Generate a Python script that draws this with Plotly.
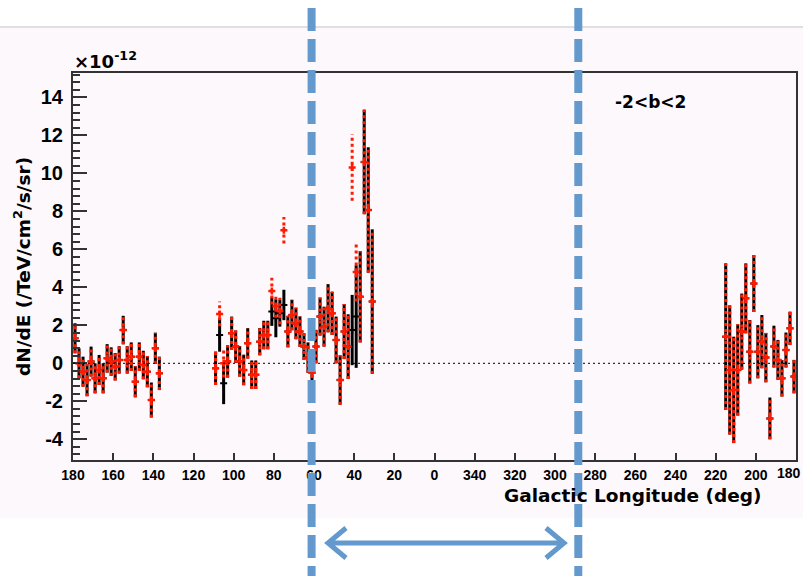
import plotly.graph_objects as go

# ---------------- data ----------------
# Galactic longitude of each bin centre (deg)
lon_left = [179, 177, 175, 173, 171, 169, 167, 165, 163, 161, 159, 157, 155, 153, 151, 149, 147, 145, 143, 141, 139, 137]
lon_mid = [109, 107, 105, 103, 101, 99, 97, 95, 93, 91, 89, 87, 85, 83, 81, 79, 77, 75, 73, 71, 69, 67, 65, 63,
           61, 59, 57, 55, 53, 51, 49, 47, 45, 43, 41, 39, 37, 35, 33, 31]
lon_right = [215, 213, 211, 209, 207, 205, 203, 201, 199, 197, 195, 193, 191, 189, 187, 185, 183, 181]

# black series (x1e-12)
black_left = [1.32, 0.0, -0.44, -0.88, 0.09, -0.79, -0.35, -0.79, 0.26, 0.09, -0.18, 0.18, 1.75, 0.18, 0.35,
              -0.97, 0.35, -0.09, -0.44, -1.93, 0.79, -0.53]
black_left_err = [0.79, 0.79, 0.79, 0.85, 0.79, 0.79, 0.79, 0.79, 0.75, 0.75, 0.72, 0.72, 0.75, 0.72, 0.75,
                  0.82, 0.75, 0.75, 0.82, 0.92, 0.82, 0.88]
black_mid = [-0.26, 1.49, -1.05, 0.1, 1.58, 0.88, 0.1, -0.35, 1.05, -0.6, -0.6, 1.14, 1.49, 1.49, 2.72, 2.37,
             2.63, 3.07, 1.67, 2.54, 2.1, 1.67, 0.88, 0.3,
             -0.5, 0.88, 2.46, 1.93, 2.9, 2.63, 1.23, -0.88, 1.67, 0.88, 1.75, 2.46, 3.5, 10.6, 8.07, 3.25]
black_mid_err = [0.88, 0.88, 1.1, 0.85, 0.88, 0.85, 0.8, 0.8, 0.8, 0.75, 0.75, 0.72, 0.75, 0.75, 0.75, 1.0,
                 0.7, 0.8, 0.83, 0.8, 0.83, 0.8, 0.7, 0.8,
                 0.9, 0.88, 1.0, 1.05, 1.27, 1.14, 1.23, 1.3, 1.45, 1.7, 1.85, 2.7, 2.4, 2.75, 3.3, 3.8]
black_right = [1.4, -0.35, -1.4, -0.35, 1.67, 3.42, 0.61, 4.2, 0.61, 1.14, 0.3, -2.9, 0.88, 0.18, -0.79, 0.7, 1.84, -0.7]
black_right_err = [3.86, 3.4, 2.8, 2.4, 2.0, 1.84, 1.67, 1.5, 1.4, 1.4, 1.3, 1.1, 1.1, 1.05, 0.96, 0.92, 0.88, 0.88]

# red series (x1e-12) - equal to black except a few bins
red_left = list(black_left)
red_left_err = list(black_left_err)
red_mid = [-0.26, 2.6, 0.0, 0.1, 1.58, 0.88, 0.1, -0.35, 1.05, -0.6, -0.6, 1.14, 1.49, 1.49, 3.8, 3.0,
           2.75, 7.0, 1.67, 2.54, 2.1, 1.67, 0.88, 0.3,
           -0.5, 0.88, 2.46, 1.93, 2.9, 2.63, 1.23, -0.88, 1.67, 0.88, 10.3, 4.8, 3.5, 10.6, 8.07, 3.25]
red_mid_err = [0.88, 0.65, 0.75, 0.85, 0.88, 0.85, 0.8, 0.8, 0.8, 0.75, 0.75, 0.72, 0.75, 0.75, 0.7, 0.6,
               0.7, 0.7, 0.83, 0.8, 0.83, 0.8, 0.7, 0.8,
               0.9, 0.88, 1.0, 1.05, 1.27, 1.14, 1.23, 1.3, 1.45, 1.7, 1.75, 1.55, 2.4, 2.75, 3.3, 3.8]
red_right = list(black_right)
red_right_err = list(black_right_err)

x_tick_lon = [180, 160, 140, 120, 100, 80, 60, 40, 20, 0, 340, 320, 300, 280, 260, 240, 220, 200, 180]
y_tick_vals = [-4, -2, 0, 2, 4, 6, 8, 10, 12, 14]
y_tick_text = ["-4", "-2", "0", "2", "4", "6", "8", "10", "12", "14"]
region_lon = [61.2, 288.4]

# ---------------- helpers ----------------
def to_axis(l):
    return 180 - l if l <= 180 else 540 - l

lon = lon_left + lon_mid + lon_right
bval = black_left + black_mid + black_right
berr = black_left_err + black_mid_err + black_right_err
rval = red_left + red_mid + red_right
rerr = red_left_err + red_mid_err + red_right_err
u = [to_axis(l) for l in lon]

# tick positions along the unwrapped axis (left edge 180 -> 0, right edge 180 -> 360)
x_tick_pos = []
x_tick_txt = []
for i, l in enumerate(x_tick_lon):
    pos = to_axis(l)
    txt = str(l)
    if i == len(x_tick_lon) - 1:
        pos = 360
        txt = ""          # drawn as an edge-anchored annotation below
    elif l == 0:
        pos = 180
    x_tick_pos.append(pos)
    x_tick_txt.append(txt)

# plot area in pixels
L, R, T, B = 73, 796, 73, 460
W, H = 803, 576
def fx(px):
    return (px - L) / (R - L)
def fy(py):
    return (B - py) / (B - T)

FONT = "Liberation Sans"
TFONT = "DejaVu Sans"
BLUE = "#6499cd"
PINK = "#fdf8fc"
RED = "#ff1a00"

fig = go.Figure()

# black error bars + markers
fig.add_trace(go.Scatter(
    x=u, y=bval, mode="markers",
    marker=dict(symbol="cross-thin", size=5, color="black", line=dict(color="black", width=2)),
    error_y=dict(type="data", array=berr, visible=True, color="black", thickness=3, width=0),
    hoverinfo="skip"))

# red dotted error bars as segments
rx, ry = [], []
for xi, v, e in zip(u, rval, rerr):
    rx += [xi, xi, None]
    ry += [v - e, v + e, None]
fig.add_trace(go.Scatter(x=rx, y=ry, mode="lines",
                         line=dict(color=RED, width=3, dash="3px,3px"),
                         hoverinfo="skip"))
fig.add_trace(go.Scatter(
    x=u, y=rval, mode="markers",
    marker=dict(symbol="cross-thin", size=5, color=RED, line=dict(color=RED, width=2.5)),
    hoverinfo="skip"))

shapes = []
# pink page region and gray top line
shapes.append(dict(type="rect", xref="paper", yref="paper", layer="below",
                   x0=fx(0), x1=fx(W), y0=fy(518), y1=fy(27),
                   fillcolor=PINK, line=dict(width=0)))
shapes.append(dict(type="line", xref="paper", yref="paper", layer="below",
                   x0=fx(0), x1=fx(W), y0=fy(27), y1=fy(27),
                   line=dict(color="#d6d6d6", width=1.5)))
# zero line
shapes.append(dict(type="line", xref="x", yref="y", x0=0, x1=360, y0=0, y1=0,
                   line=dict(color="black", width=1, dash="2px,3px")))
# blue dashed region lines
for rl in region_lon:
    ux = to_axis(rl)
    shapes.append(dict(type="line", xref="x", yref="paper", layer="above",
                       x0=ux, x1=ux, y0=fy(8), y1=fy(590),
                       line=dict(color=BLUE, width=8, dash="23px,8px")))
# double headed arrow
ay = 543
p = (f"M{fx(329)},{fy(ay)} L{fx(563)},{fy(ay)} "
     f"M{fx(346)},{fy(ay-15)} L{fx(328)},{fy(ay)} L{fx(346)},{fy(ay+15)} "
     f"M{fx(546)},{fy(ay-15)} L{fx(564)},{fy(ay)} L{fx(546)},{fy(ay+15)}")
shapes.append(dict(type="path", xref="paper", yref="paper", path=p,
                   line=dict(color=BLUE, width=5)))

annotations = [
    dict(text="×10<sup>-12</sup>", xref="paper", yref="paper", x=fx(72), y=fy(74),
         xanchor="left", yanchor="bottom", showarrow=False,
         font=dict(family=TFONT, size=18, color="black", weight="bold")),
    dict(text="-2&lt;b&lt;2", xref="paper", yref="paper", x=fx(613), y=fy(102),
         xanchor="left", yanchor="middle", showarrow=False,
         font=dict(family=TFONT, size=17, color="black", weight="bold")),
    dict(text="Galactic Longitude (deg)", xref="paper", yref="paper", x=fx(764), y=fy(495),
         xanchor="right", yanchor="middle", showarrow=False,
         font=dict(family=TFONT, size=18.5, color="black", weight="bold")),
    dict(text="dN/dE (/TeV/cm<sup>2</sup>/s/sr)", xref="paper", yref="paper", x=fx(22), y=fy(267),
         xanchor="center", yanchor="middle", textangle=-90, showarrow=False,
         font=dict(family=TFONT, size=18.5, color="black", weight="bold")),
    dict(text=str(x_tick_lon[-1]), xref="paper", yref="paper", x=fx(802), y=fy(473),
         xanchor="right", yanchor="middle", showarrow=False, borderpad=0,
         font=dict(family=FONT, size=14, color="black", weight="bold")),
]

fig.update_layout(
    width=W, height=H,
    margin=dict(l=L, r=W - R, t=T, b=H - B, pad=0, autoexpand=False),
    paper_bgcolor="white", plot_bgcolor=PINK,
    showlegend=False,
    font=dict(family=FONT, color="black"),
    shapes=shapes, annotations=annotations,
    xaxis=dict(range=[0, 360], tickmode="array",
               tickvals=x_tick_pos,
               ticktext=x_tick_txt,
               ticks="inside", ticklen=7, tickwidth=1.5, tickcolor="#333",
               showline=True, linecolor="#333", linewidth=2, mirror=True,
               showgrid=False, zeroline=False, ticklabelstandoff=1,
               ticklabeloverflow="allow", automargin=False,
               tickfont=dict(family=FONT, size=14, color="black", weight="bold")),
    yaxis=dict(range=[-5.09, 15.28], tickmode="array", tickvals=y_tick_vals, ticktext=y_tick_text,
               ticks="inside", ticklen=14, tickwidth=1.5, tickcolor="#333",
               minor=dict(ticks="inside", ticklen=7, tickwidth=1.5, tickcolor="#333", dtick=0.4, tick0=0, showgrid=False),
               showline=True, linecolor="#333", linewidth=2, mirror=True,
               showgrid=False, zeroline=False, ticklabelstandoff=4, automargin=False,
               tickfont=dict(family=FONT, size=20, color="black", weight="bold")),
)

fig.write_html("out.html")
